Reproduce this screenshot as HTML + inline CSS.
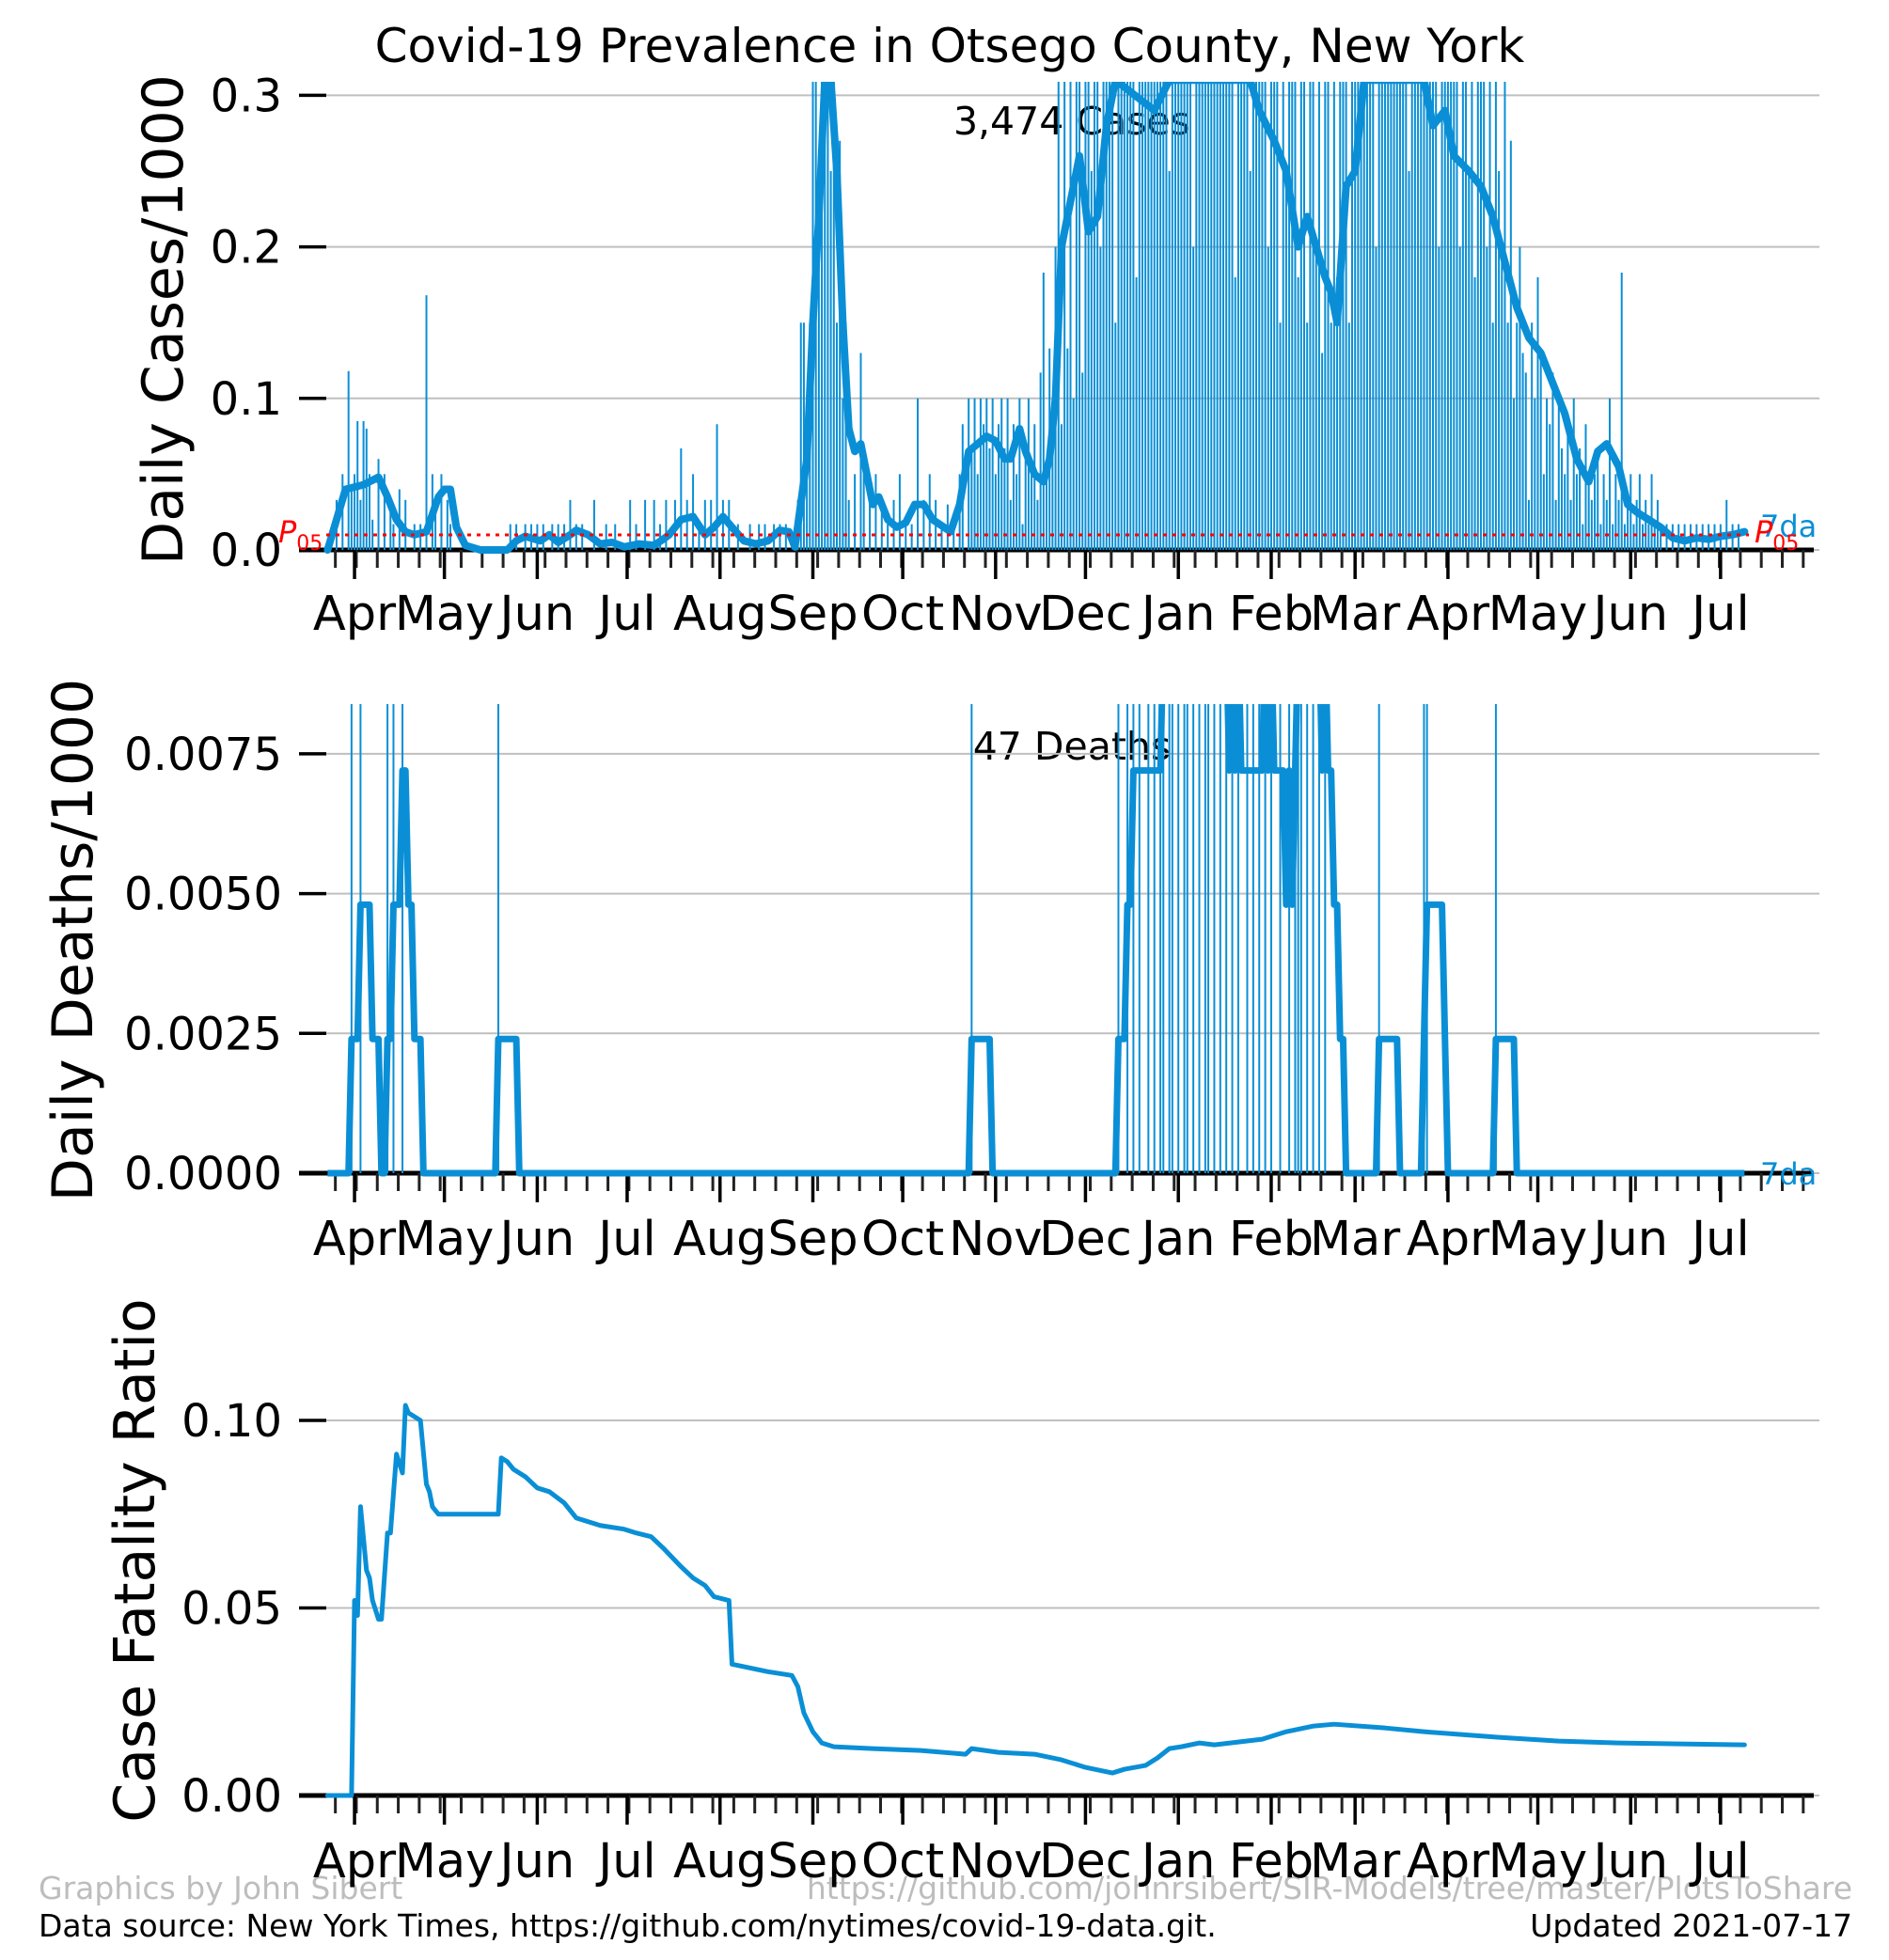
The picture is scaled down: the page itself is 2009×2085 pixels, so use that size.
<!DOCTYPE html>
<html><head><meta charset="utf-8">
<style>
html,body{margin:0;padding:0;background:#fff;}
svg{display:block;font-family:"DejaVu Sans","Liberation Sans",sans-serif;}
</style></head>
<body>
<svg id="chart" xmlns="http://www.w3.org/2000/svg" width="2009" height="2085" viewBox="0 0 2009 2085">
<defs>
<clipPath id="c1"><rect x="320" y="87" width="1615" height="503"/></clipPath>
<clipPath id="c2"><rect x="320" y="749" width="1615" height="504"/></clipPath>
<clipPath id="c3"><rect x="320" y="1300" width="1615" height="620"/></clipPath>
</defs>
<text x="1010" y="66" font-size="50" text-anchor="middle">Covid-19 Prevalence in Otsego County, New York</text>
<text x="0" y="0" font-size="60" text-anchor="middle" transform="translate(194,340) rotate(-90)">Daily Cases/1000</text>
<text x="0" y="0" font-size="60" text-anchor="middle" transform="translate(98,1000) rotate(-90)">Daily Deaths/1000</text>
<text x="0" y="0" font-size="60" text-anchor="middle" transform="translate(164,1660) rotate(-90)">Case Fatality Ratio</text>
<text x="1140" y="143" font-size="41" text-anchor="middle">3,474 Cases</text>
<text x="1140" y="808" font-size="41" text-anchor="middle">47 Deaths</text>
<text x="41" y="2020" font-size="33" fill="#bdbdbd">Graphics by John Sibert</text>
<text x="1970" y="2020" font-size="33" fill="#bdbdbd" text-anchor="end">https://github.com/johnrsibert/SIR-Models/tree/master/PlotsToShare</text>
<text x="41" y="2060" font-size="33">Data source: New York Times, https://github.com/nytimes/covid-19-data.git.</text>
<text x="1970" y="2060" font-size="33" text-anchor="end">Updated 2021-07-17</text>
<g id="g1"></g>
<g id="g2"></g>
<g id="g3"></g>
</svg>
<script>
// ---- data (days since 2020-03-14) ----
const monthDays = [18,48,79,109,140,171,201,232,262,293,324,352,383,413,444,474];
const monthLabels = ["Apr","May","Jun","Jul","Aug","Sep","Oct","Nov","Dec","Jan","Feb","Mar","Apr","May","Jun","Jul"];
const casesTicks = [0,0.1,0.2,0.3];
const casesTickLabels = ["0.0","0.1","0.2","0.3"];
const deathsTicks = [0,0.0025,0.005,0.0075];
const deathsTickLabels = ["0.0000","0.0025","0.0050","0.0075"];
const cfrTicks = [0,0.05,0.10];
const cfrTickLabels = ["0.00","0.05","0.10"];
const p05Value = 0.0099;

const cases7daDays = [9,15,21,26,29,32,35,38,42,46,48,50,52,55,60,69,72,75,80,83,86,90,92,96,100,104,108,113,118,121,123,127,131,135,138,141,144,148,152,156,160,163,165,169,171,173,175,177,179,181,183,185,187,189,191,193,196,199,202,205,208,211,214,217,220,223,226,229,232,235,237,240,242,245,248,250,252,254,257,260,263,266,269,272,285,290,317,320,325,329,333,336,339,342,344,346,349,352,355,375,378,382,385,390,394,398,402,406,410,414,418,422,426,430,433,436,440,443,446,450,454,458,462,466,470,474,478,482];
const cases7daVals = [0,0.04,0.043,0.048,0.035,0.02,0.012,0.01,0.012,0.035,0.04,0.04,0.015,0.003,0,0,0.006,0.009,0.006,0.01,0.005,0.01,0.013,0.01,0.004,0.005,0.002,0.004,0.003,0.007,0.01,0.02,0.022,0.01,0.015,0.022,0.015,0.006,0.004,0.006,0.013,0.012,0.002,0.06,0.15,0.22,0.31,0.31,0.25,0.15,0.08,0.065,0.07,0.05,0.03,0.035,0.02,0.015,0.018,0.03,0.03,0.02,0.016,0.012,0.03,0.065,0.07,0.075,0.072,0.06,0.06,0.08,0.065,0.05,0.045,0.06,0.1,0.2,0.23,0.26,0.21,0.22,0.28,0.31,0.29,0.31,0.31,0.29,0.27,0.25,0.2,0.22,0.2,0.18,0.17,0.15,0.24,0.25,0.31,0.31,0.28,0.29,0.26,0.25,0.24,0.22,0.19,0.16,0.14,0.13,0.11,0.09,0.06,0.045,0.065,0.07,0.055,0.03,0.025,0.02,0.015,0.008,0.006,0.008,0.007,0.009,0.01,0.012];

const sparseCaseDays = [12,14,16,17,18,19,20,21,22,23,24,26,28,30,31,33,35,38,40,42,44,45,47,49,50,70,72,75,77,79,81,84,86,88,90,92,94,98,102,105,110,112,115,118,120,122,125,127,129,131,133,135,137,139,141,143,146,150,153,155,158,160,162,166,167,168,169,170,171,172,173,174,175,176,177,178,179,180,181,182,183,185,187,188,190,192,194,196,198,200,202,204,206,208,210,212,214,216,218,220,221,223,224,225,226,227,228,229,230,231,232,233,234,456,458,460,462,464,466,468,470,472,474,476,478,480];
const sparseCaseVals = [0.033,0.05,0.118,0.04,0.05,0.085,0.033,0.085,0.08,0.05,0.02,0.06,0.05,0.033,0.017,0.04,0.033,0.017,0.017,0.168,0.05,0.033,0.05,0.033,0.017,0.017,0.017,0.017,0.017,0.017,0.017,0.017,0.017,0.017,0.033,0.017,0.017,0.033,0.017,0.017,0.033,0.017,0.033,0.033,0.017,0.033,0.033,0.067,0.033,0.05,0.017,0.033,0.033,0.083,0.033,0.033,0.017,0.017,0.017,0.017,0.017,0.017,0.017,0.033,0.15,0.15,0.05,0.15,0.31,0.31,0.2,0.31,0.31,0.31,0.25,0.31,0.15,0.27,0.1,0.15,0.033,0.05,0.13,0.05,0.033,0.05,0.033,0.017,0.033,0.05,0.017,0.017,0.1,0.033,0.05,0.033,0.017,0.03,0.017,0.05,0.083,0.1,0.067,0.1,0.05,0.1,0.083,0.1,0.067,0.1,0.05,0.083,0.1,0.017,0.017,0.017,0.017,0.017,0.017,0.017,0.017,0.017,0.017,0.033,0.017,0.017];
const denseStartDay = 235;
const denseCaseVals = [
0.067,0.1,0.033,0.083,0.05,0.1,0.017,0.067,0.1,0.05,
0.083,0.033,0.117,0.183,0.05,0.133,0.1,0.2,0.31,0.083,
0.31,0.133,0.31,0.1,0.31,0.31,0.117,0.31,0.31,0.25,
0.31,0.31,0.2,0.31,0.31,0.31,0.31,0.15,0.31,0.31,
0.31,0.31,0.31,0.31,0.18,0.31,0.31,0.31,0.31,0.31,
0.31,0.31,0.31,0.31,0.31,0.25,0.31,0.31,0.31,0.31,
0.31,0.31,0.31,0.2,0.31,0.31,0.31,0.31,0.31,0.31,
0.31,0.31,0.31,0.31,0.31,0.31,0.31,0.18,0.31,0.31,
0.31,0.31,0.25,0.31,0.31,0.31,0.31,0.31,0.2,0.31,
0.31,0.31,0.15,0.31,0.25,0.31,0.31,0.31,0.18,0.31,
0.31,0.15,0.31,0.31,0.2,0.31,0.13,0.31,0.31,0.15,
0.31,0.18,0.31,0.31,0.31,0.15,0.31,0.31,0.31,0.31,
0.31,0.31,0.31,0.31,0.2,0.31,0.31,0.31,0.31,0.31,
0.31,0.31,0.31,0.31,0.31,0.25,0.31,0.31,0.31,0.31,
0.31,0.31,0.31,0.31,0.31,0.2,0.31,0.31,0.31,0.31,
0.31,0.31,0.2,0.31,0.31,0.25,0.31,0.18,0.31,0.31,
0.31,0.2,0.31,0.15,0.31,0.25,0.2,0.31,0.15,0.27,
0.1,0.15,0.2,0.13,0.117,0.033,0.15,0.1,0.18,0.133,
0.05,0.1,0.083,0.117,0.033,0.1,0.067,0.05,0.083,0.033,
0.1,0.05,0.067,0.017,0.083,0.05,0.033,0.05,0.067,0.017,
0.05,0.033,0.1,0.017,0.05,0.033,0.183,0.017,0.033,0.05,
0.017,0.033,0.05,0.017,0.033,0.017,0.05,0.017,0.033,0.017];

const deathDays = [17,20,29,31,34,66,224,273,276,278,280,283,285,287,288,290,291,293,295,296,298,300,302,303,305,307,309,311,313,316,318,320,322,324,327,330,332,333,334,336,338,340,342,360,375,376,399];
const populationThousands = 59.5;

const cfrDays = [9,17,18,19,20,22,23,24,26,27,29,30,32,34,35,36,38,40,42,43,44,46,66,67,69,71,75,79,83,88,92,96,100,108,112,117,121,127,131,135,138,143,144,150,156,164,166,168,171,174,178,191,207,222,224,233,245,254,262,271,275,282,286,290,294,300,305,321,329,338,345,362,375,400,420,440,482];
const cfrVals = [0,0,0.052,0.048,0.077,0.06,0.058,0.052,0.047,0.047,0.07,0.07,0.091,0.086,0.104,0.102,0.101,0.1,0.083,0.081,0.077,0.075,0.075,0.09,0.089,0.087,0.085,0.082,0.081,0.078,0.074,0.073,0.072,0.071,0.07,0.069,0.066,0.061,0.058,0.056,0.053,0.052,0.035,0.034,0.033,0.032,0.029,0.022,0.017,0.014,0.013,0.0125,0.012,0.011,0.0125,0.0115,0.011,0.0095,0.0075,0.006,0.007,0.008,0.01,0.0125,0.013,0.014,0.0135,0.015,0.017,0.0185,0.019,0.018,0.017,0.0155,0.0145,0.014,0.0135];

// ---- scales ----
const NS = "http://www.w3.org/2000/svg";
const BLUE = "#0a8fd6";
function xS(d){ return 319.7 + d*3.186; }
function y1(v){ return 585 - v*1612; }
function y2(v){ return 1248 - v*59480; }
function y3(v){ return 1910 - v*3990; }
function mk(tag, attrs, parent){
  const el = document.createElementNS(NS, tag);
  for (const k in attrs) el.setAttribute(k, attrs[k]);
  parent.appendChild(el);
  return el;
}

function drawAxes(g, ys, ticks, labels, axisY, labelBase, prefix){
  ticks.forEach((t,i)=>{
    const gl = mk("line",{x1:347,x2:1935,y1:ys(t),y2:ys(t),stroke:"#bfbfbf","stroke-width":2},g);
    
    
    const tk = mk("line",{x1:318,x2:347,y1:ys(t),y2:ys(t),stroke:"#000","stroke-width":3.5},g);
    
    
    const tl = mk("text",{x:300,y:ys(t)+17,"font-size":48,"text-anchor":"end"},g);
    tl.textContent = labels[i];
    
    
  });
  const sp = mk("line",{x1:318,x2:1929,y1:axisY,y2:axisY,stroke:"#000","stroke-width":5},g);
  
  
  for (let d=11.6; xS(d)<=1925; d+=7){
    const m = mk("line",{x1:xS(d),x2:xS(d),y1:axisY,y2:axisY+19,stroke:"#222","stroke-width":3},g);
    
    
  }
  monthDays.forEach((d,i)=>{
    const t = mk("line",{x1:xS(d),x2:xS(d),y1:axisY,y2:axisY+31,stroke:"#000","stroke-width":3.5},g);
    
    
    const l = mk("text",{x:xS(d),y:labelBase,"font-size":51,"text-anchor":"middle"},g);
    l.textContent = monthLabels[i];
    
    
  });
}

// ---- panel 1: cases ----
const g1 = document.getElementById("g1");
drawAxes(g1, y1, casesTicks, casesTickLabels, 585, 670, "cases");
const c1 = mk("g",{"clip-path":"url(#c1)"},g1);


function caseBar(d,v){
  const b = mk("line",{x1:xS(d),x2:xS(d),y1:y1(0),y2:y1(v),stroke:BLUE,"stroke-width":2},c1);
  
  
}
sparseCaseDays.forEach((d,i)=>caseBar(d, sparseCaseVals[i]));
denseCaseVals.forEach((v,i)=>caseBar(denseStartDay+i, v));
const p05 = mk("line",{x1:347,x2:1860,y1:y1(p05Value),y2:y1(p05Value),stroke:"#ff0000","stroke-width":3,"stroke-dasharray":"4,6"},g1);


const cl = mk("polyline",{points:cases7daDays.map((d,i)=>xS(d)+","+y1(cases7daVals[i])).join(" "),fill:"none",stroke:BLUE,"stroke-width":8,"stroke-linejoin":"round","stroke-linecap":"round"},c1);


const pL = mk("text",{x:296,y:y1(p05Value)+8,"font-size":32,fill:"#ff0000"},g1);
pL.innerHTML = '<tspan font-style="italic">P</tspan><tspan font-size="22" dy="8">05</tspan>';


const sd = mk("text",{x:1872,y:y1(p05Value)+2,"font-size":32,fill:BLUE},g1);
sd.textContent = "7da";


const pR = mk("text",{x:1866,y:y1(p05Value)+8,"font-size":32,fill:"#ff0000"},g1);
pR.innerHTML = '<tspan font-style="italic">P</tspan><tspan font-size="22" dy="8">05</tspan>';



// ---- panel 2: deaths ----
const g2 = document.getElementById("g2");
drawAxes(g2, y2, deathsTicks, deathsTickLabels, 1248, 1335, "deaths");
const c2 = mk("g",{"clip-path":"url(#c2)"},g2);


const dailyDeaths = {};
deathDays.forEach(d=>{ dailyDeaths[d] = (dailyDeaths[d]||0) + 1; });
Object.keys(dailyDeaths).forEach(k=>{
  const d = +k;
  const b = mk("line",{x1:xS(d),x2:xS(d),y1:y2(0),y2:y2(dailyDeaths[k]/populationThousands),stroke:BLUE,"stroke-width":2},c2);
  
  
});
const dPts = [];
for (let d=9; d<=482; d++){
  let s = 0;
  for (let j=d-6; j<=d; j++) s += (dailyDeaths[j]||0);
  dPts.push(xS(d)+","+y2(s/7/populationThousands));
}
const dl = mk("polyline",{points:dPts.join(" "),fill:"none",stroke:BLUE,"stroke-width":7,"stroke-linejoin":"round"},c2);


const sd2 = mk("text",{x:1872,y:1260,"font-size":32,fill:BLUE},g2);
sd2.textContent = "7da";



// ---- panel 3: CFR ----
const g3 = document.getElementById("g3");
drawAxes(g3, y3, cfrTicks, cfrTickLabels, 1910, 1997, "cfr");
const c3 = mk("g",{"clip-path":"url(#c3)"},g3);


const cf = mk("polyline",{points:cfrDays.map((d,i)=>xS(d)+","+y3(cfrVals[i])).join(" "),fill:"none",stroke:BLUE,"stroke-width":5,"stroke-linejoin":"round","stroke-linecap":"round"},c3);


</script>
</body></html>
